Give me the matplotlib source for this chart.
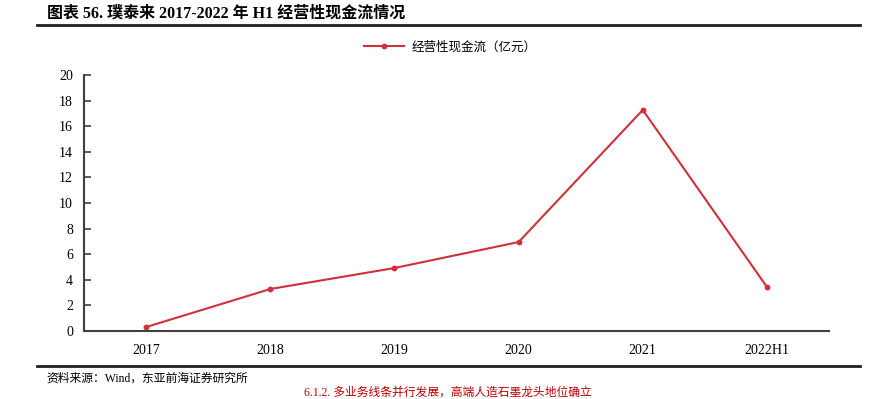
import matplotlib
matplotlib.use('Agg')
import matplotlib.pyplot as plt
from matplotlib.lines import Line2D

plt.rcParams['font.family'] = ['Liberation Serif', 'Noto Sans CJK SC', 'DejaVu Sans']

categories = ['2017', '2018', '2019', '2020', '2021', '2022H1']
cash_flow = [0.31, 3.28, 4.92, 6.95, 17.27, 3.44]
series_name = '经营性现金流（亿元）'
title = '图表 56. 璞泰来 2017-2022 年 H1 经营性现金流情况'
source = '资料来源：Wind，东亚前海证券研究所'
next_heading = '6.1.2. 多业务线条并行发展，高端人造石墨龙头地位确立'

fig = plt.figure(figsize=(8.69, 3.99), dpi=100)
ax = fig.add_axes([0.0967, 0.1704, 0.8573, 0.6416])

# 折线
x = list(range(len(categories)))
ax.plot(x, cash_flow, color='#d0303a', linewidth=1.5, marker='o', markersize=3.2)

# 坐标轴
ax.set_xlim(-0.5, len(categories) - 0.5)
ax.set_ylim(0, 20)
ax.set_yticks(range(0, 21, 2))
ax.set_xticks(x)
ax.set_xticklabels(categories)
for s in ['top', 'right']:
    ax.spines[s].set_visible(False)
for s in ['left', 'bottom']:
    ax.spines[s].set_color('#404040')
    ax.spines[s].set_linewidth(1.5)
ax.tick_params(axis='y', direction='in', length=5, width=1.2, color='#404040',
               labelsize=10, pad=8)
ax.tick_params(axis='x', length=0, labelsize=10, pad=9)

# 图例
handle = Line2D([], [], color='#d0303a', linewidth=1.5, marker='o', markersize=3.2)
fig.legend([handle], [series_name], loc='center', bbox_to_anchor=(0.518, 0.882),
           frameon=False, handlelength=3.2, handletextpad=0.6,
           prop={'family': ['Noto Sans CJK SC'], 'size': 9})

# 标题与分隔线
fig.text(0.054, 0.965, title, fontsize=11.5, fontweight='bold', va='center', ha='left',
         family=['Liberation Serif', 'Noto Sans CJK SC'])
fig.add_artist(Line2D([0.043, 0.99], [0.937, 0.937], color='#202020', linewidth=2,
                      transform=fig.transFigure))
fig.add_artist(Line2D([0.043, 0.99], [0.083, 0.083], color='#202020', linewidth=2,
                      transform=fig.transFigure))
fig.text(0.054, 0.052, source, fontsize=8.5, va='center', ha='left',
         family=['Liberation Serif', 'Noto Sans CJK SC'])
fig.text(0.35, 0.002, next_heading, fontsize=8.5, va='bottom', ha='left',
         color='#c00000', family=['Liberation Serif', 'Noto Sans CJK SC'])

fig.savefig('out.png', dpi=100)
